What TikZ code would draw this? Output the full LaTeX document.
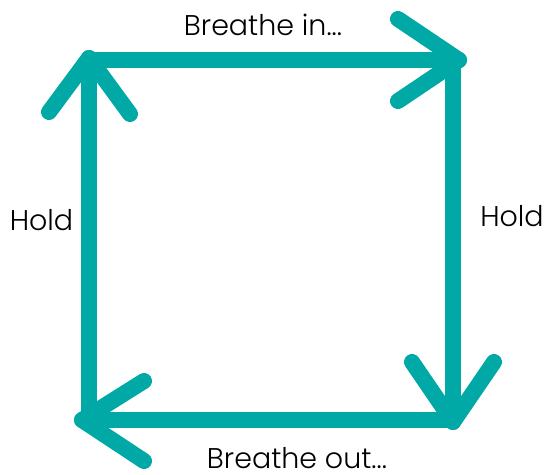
\documentclass[tikz,border=0pt]{standalone}
\usepackage{fontspec}
\setmainfont{Poppins Light}
\definecolor{teal}{RGB}{0,169,165}
\tikzset{
  bar/.style={draw=teal, line width=16pt, line cap=round, line join=round},
  lbl/.style={anchor=base, inner sep=0pt, font=\fontsize{28.5}{32}\selectfont, text=black}
}
\begin{document}
\begin{tikzpicture}[x=1pt,y=-1pt]
\useasboundingbox (0,0) rectangle (545,474);
\coordinate (TL) at (89,58);
\coordinate (TR) at (459,60);
\coordinate (BR) at (453,422);
\coordinate (BL) at (82,420);
\coordinate (topstart) at (89,60);
\coordinate (leftstart) at (89,420);
\coordinate (rightstart) at (453,60);
\coordinate (bottomstart) at (453,420);
% main sides
\draw[bar] (topstart) -- (TR);
\draw[bar] (rightstart) -- (BR);
\draw[bar] (bottomstart) -- (BL);
\draw[bar] (leftstart) -- (TL);
% chevrons
\draw[bar] (49,112) -- (TL) -- (130,114);
\draw[bar] (398,19) -- (TR) -- (398,101);
\draw[bar] (412,362) -- (BR) -- (494,362);
\draw[bar] (144,381) -- (BL) -- (144,461);
% labels
\node[lbl] (in) at (263,35) {Breathe in...};
\node[lbl] (out) at (297,468.5) {Breathe out...};
\node[lbl] (holdL) at (41.5,230) {Hold};
\node[lbl] (holdR) at (512,226) {Hold};
\end{tikzpicture}
\end{document}
